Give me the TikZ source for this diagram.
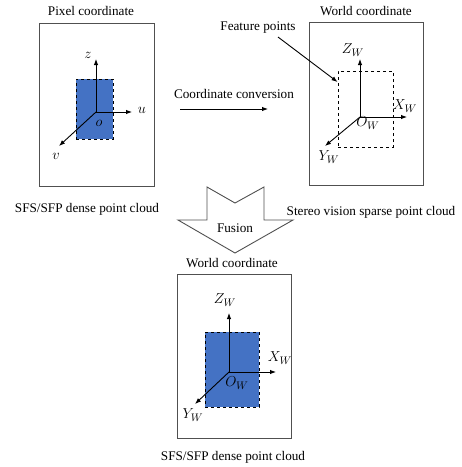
\documentclass[tikz,border=0pt]{standalone}
\usepackage{fontspec}
\setmainfont{Liberation Serif}
\usetikzlibrary{arrows.meta}
\definecolor{fillblue}{HTML}{4472C4}
\definecolor{framegray}{HTML}{505050}
\begin{document}
\begin{tikzpicture}[x=1pt,y=-1pt,
  frame/.style={draw=framegray,line width=0.9pt,inner sep=0pt,fill=white},
  bluerect/.style={draw=black,dashed,line width=0.9pt,fill=fillblue,inner sep=0pt},
  dashrect/.style={draw=black,dashed,line width=0.9pt,inner sep=0pt},
  axis/.style={-{Latex[length=6pt,width=4.5pt]},line width=0.9pt},
  lbl/.style={font=\fontsize{13.2}{15}\selectfont,inner sep=0pt},
  mlbl/.style={inner sep=0pt,font=\fontsize{15}{17}\selectfont}]
\useasboundingbox (0,0) rectangle (462,467);
% ---------- left panel ----------
\node[lbl] (ttl1) at (91,11) {Pixel coordinate};
\node[frame,minimum width=115pt,minimum height=163pt] (pbox) at (96.5,104.5) {};
\node[bluerect,minimum width=37pt,minimum height=60pt] (prect) at (94.5,109) {};
\coordinate (po) at (96,112);
\coordinate (pz) at (96,59);
\coordinate (pu) at (132,112);
\coordinate (pv) at (59,146);
\draw[axis] (po) -- (pz);
\draw[axis] (po) -- (pu);
\draw[axis] (po) -- (pv);
\node[mlbl] (lz) at (88,55) {$z$};
\node[mlbl] (lu) at (142,110) {$u$};
\node[mlbl] (lv) at (56,156) {$v$};
\node[mlbl] (lo) at (99,123) {$o$};
\node[lbl] (cap1) at (87,209) {SFS/SFP dense point cloud};
% ---------- conversion arrow ----------
\coordinate (ca) at (180,109);
\coordinate (cb) at (268,109);
\draw[axis] (ca) -- (cb);
\node[lbl] (ctxt) at (234,94) {Coordinate conversion};
% ---------- right panel ----------
\node[lbl] (ttl2) at (366,11) {World coordinate};
\node[frame,minimum width=114pt,minimum height=163pt] (wbox) at (366,103.5) {};
\node[dashrect,minimum width=55pt,minimum height=76pt] (wrect) at (365.5,109) {};
\coordinate (wo) at (360,117);
\coordinate (wz) at (360,59);
\coordinate (wx) at (407,117);
\coordinate (wy) at (325,146);
\draw[axis] (wo) -- (wz);
\draw[axis] (wo) -- (wx);
\draw[axis] (wo) -- (wy);
\node[mlbl] (lwz) at (353,50) {$Z_W$};
\node[mlbl] (lwx) at (405,106) {$X_W$};
\node[mlbl] (lwy) at (329,157) {$Y_W$};
\node[mlbl] (lwo) at (368,123) {$O_W$};
\node[lbl] (feat) at (258,28) {Feature points};
\coordinate (fa) at (278,37);
\draw[axis] (fa) -- (wrect.west |- 0,82);
\node[lbl] (cap2) at (371,212) {Stereo vision sparse point cloud};
% ---------- fusion arrow ----------
\draw[framegray,line width=0.9pt,fill=white]
  (207,187) -- (235,203) -- (264,187) -- (264,220) -- (293,220)
  -- (235,253) -- (178,220) -- (207,220) -- cycle;
\node[lbl] (fus) at (235,228) {Fusion};
% ---------- bottom panel ----------
\node[lbl] (ttl3) at (232,263) {World coordinate};
\node[frame,minimum width=114pt,minimum height=164pt] (bbox) at (234,356) {};
\node[bluerect,minimum width=54pt,minimum height=75pt] (brect) at (232,369.5) {};
\coordinate (bo) at (229,372);
\coordinate (bz) at (229,313);
\coordinate (bx) at (276,372);
\coordinate (by) at (195,404);
\draw[axis] (bo) -- (bz);
\draw[axis] (bo) -- (bx);
\draw[axis] (bo) -- (by);
\node[mlbl] (lbz) at (225,300) {$Z_W$};
\node[mlbl] (lbx) at (280,358) {$X_W$};
\node[mlbl] (lby) at (193,415) {$Y_W$};
\node[mlbl] (lbo) at (237,383) {$O_W$};
\node[lbl] (cap3) at (233,457) {SFS/SFP dense point cloud};
\end{tikzpicture}
\end{document}
